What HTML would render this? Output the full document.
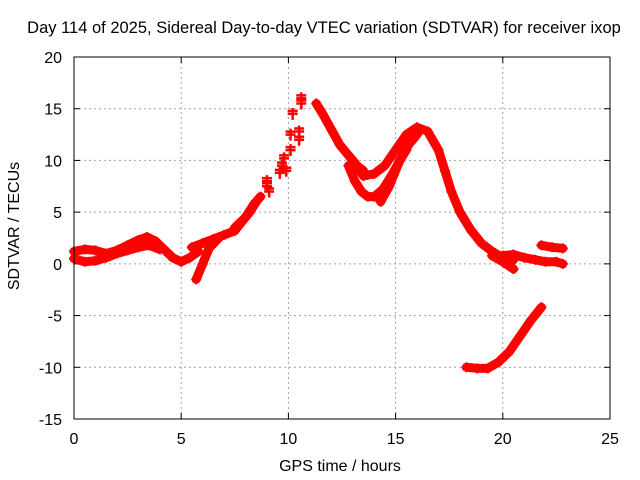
<!DOCTYPE html>
<html><head><meta charset="utf-8"><style>
body{margin:0;background:#fff;}
svg{display:block;font-family:"Liberation Sans",sans-serif;}
</style></head><body>
<svg id="chart" width="640" height="480" viewBox="0 0 640 480">
<rect width="640" height="480" fill="#fff"/>
<text x="324" y="33" font-size="16.5" text-anchor="middle">Day 114 of 2025, Sidereal Day-to-day VTEC variation (SDTVAR) for receiver ixop</text>
<text x="340" y="471" font-size="16" text-anchor="middle">GPS time / hours</text>
<text transform="translate(19,226) rotate(-90)" font-size="16" text-anchor="middle">SDTVAR / TECUs</text>
<g id="grid"></g><g id="ticks"></g><g id="series"></g>
<rect x="74" y="57" width="536" height="362" fill="none" stroke="#000" stroke-width="1"/>
</svg>
<script>
const xTicks=[0,5,10,15,20,25];
const yTicks=[-15,-10,-5,0,5,10,15,20];
const trackA=[[0,1.2],[0.5,1.4],[1,1.3],[1.5,1.0],[2,1.3],[2.5,1.8],[3,2.3],[3.4,2.6],[3.8,2.2],[4.2,1.4],[4.6,0.6],[5,0.2],[5.4,0.6],[5.8,1.2]];
const trackB=[[0,0.5],[0.5,0.2],[1,0.3],[1.5,0.6],[2,1.0],[2.5,1.3],[3,1.6],[3.5,1.8],[4,1.4]];
const trackC=[[5.5,1.6],[6,2.0],[6.5,2.4],[7,2.8],[7.5,3.2],[7.8,4],[8.2,5],[8.5,6]];
const trackD=[[5.7,-1.5],[6,0],[6.3,1.5],[6.8,2.6]];
const trackE=[[7.5,3.5],[8,4.5],[8.4,5.8],[8.7,6.5]];
const scatter=[[9,7.5],[9,8],[9.1,7],[9.6,8.8],[9.7,9.5],[9.8,10.2],[9.9,9],[10.1,11],[10.1,12.5],[10.2,14.5],[10.5,12.8],[10.6,16],[10.6,15.5],[10.5,12]];
const trackF=[[11.3,15.5],[11.6,14.5],[12,13],[12.4,11.5],[12.8,10.5],[13.2,9.5],[13.5,9]];
const trackG=[[12.8,9.5],[13.1,8],[13.4,7],[13.7,6.5],[14,6.5],[14.4,7.2],[14.8,8.5],[15.2,10],[15.6,11.5],[16,12.5]];
const trackH=[[13,10],[13.5,8.5],[14,8.7],[14.5,9.5],[15,11],[15.5,12.5],[16,13.2],[16.5,12.8],[17,11],[17.3,9],[17.6,7],[18,5],[18.5,3.3],[19,2],[19.5,1.2],[20,0.6],[20.5,0.4]];
const trackI=[[19.5,0.8],[20,0.2],[20.5,-0.5]];
const trackJ=[[20,0.8],[20.5,0.9],[21,0.6],[21.5,0.4],[22,0.2],[22.5,0.2],[22.8,0]];
const trackK=[[21.8,1.8],[22.3,1.6],[22.8,1.5]];
const trackL=[[18.3,-10],[18.8,-10.1],[19.3,-10.1],[19.8,-9.5],[20.3,-8.5],[20.8,-7],[21.3,-5.5],[21.8,-4.2]];
const trackM=[[14.3,6],[14.7,7.5],[15.2,10],[15.5,11]];

const X=v=>74+(v-0)/25*536;
const Y=v=>419-(v+15)/35*362;
const NS='http://www.w3.org/2000/svg';
function mk(t,p,a){const e=document.createElementNS(NS,t);for(const k in a)e.setAttribute(k,a[k]);p.appendChild(e);return e;}
const grid=document.getElementById('grid'),ticks=document.getElementById('ticks'),ser=document.getElementById('series');
xTicks.forEach(t=>{
  if(t>0&&t<25){const l=mk('line',grid,{x1:X(t),x2:X(t),y1:57,y2:419,stroke:'#a0a0a0','stroke-dasharray':'2,3'});
  
  }
  mk('line',ticks,{x1:X(t),x2:X(t),y1:419,y2:413,stroke:'#000'});
  mk('line',ticks,{x1:X(t),x2:X(t),y1:57,y2:63,stroke:'#000'});
  const tx=mk('text',ticks,{x:X(t),y:444,'font-size':16,'text-anchor':'middle'});tx.textContent=t;
  
  
});
yTicks.forEach(t=>{
  if(t>-15&&t<20){const l=mk('line',grid,{x1:74,x2:610,y1:Y(t),y2:Y(t),stroke:'#a0a0a0','stroke-dasharray':'2,3'});
  
  }
  mk('line',ticks,{x1:74,x2:80,y1:Y(t),y2:Y(t),stroke:'#000'});
  mk('line',ticks,{x1:610,x2:604,y1:Y(t),y2:Y(t),stroke:'#000'});
  const tx=mk('text',ticks,{x:62,y:Y(t)+6,'font-size':16,'text-anchor':'end'});tx.textContent=t;
  
  
});
const tracks=[trackA,trackB,trackC,trackD,trackE,trackF,trackG,trackH,trackI,trackJ,trackK,trackL,trackM];
tracks.forEach(tr=>{
  const pl=mk('polyline',ser,{points:tr.map(p=>X(p[0])+','+Y(p[1])).join(' '),fill:'none',stroke:'#f00','stroke-width':9,'stroke-linejoin':'round','stroke-linecap':'round'});
  
  
  tr.forEach(p=>{
    const x=X(p[0]),y=Y(p[1]);
    const m=mk('path',ser,{d:`M${x-5},${y}H${x+5}M${x},${y-5}V${y+5}`,stroke:'#f00','stroke-width':2});
    
    
  });
});
scatter.forEach(p=>{
  const x=X(p[0]),y=Y(p[1]);
  const m=mk('path',ser,{d:`M${x-5},${y}H${x+5}M${x},${y-6}V${y+6}M${x-5},${y-3}H${x+5}`,stroke:'#f00','stroke-width':2.5});
  
  
});
</script>
</body></html>
